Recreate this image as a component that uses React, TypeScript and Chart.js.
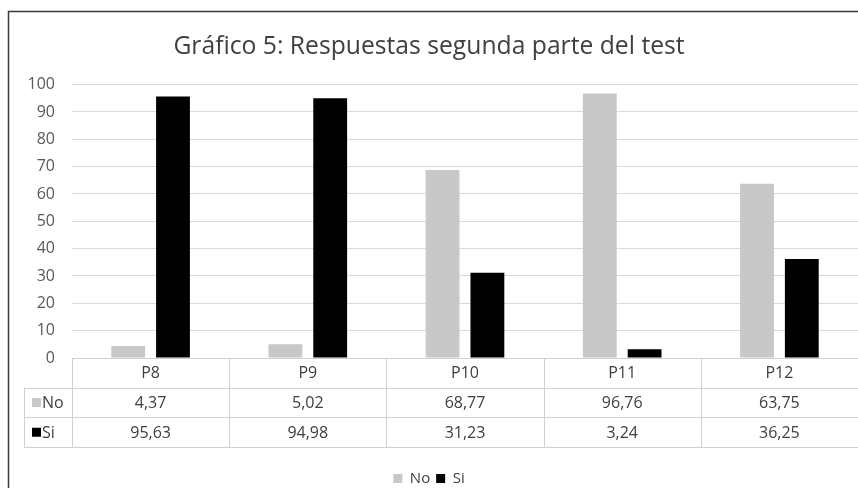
import React, { useEffect, useRef } from "react";
import { Chart, registerables } from "chart.js";

Chart.register(...registerables);

const TITLE = "Gráfico 5: Respuestas segunda parte del test";
const categories = ["P8", "P9", "P10", "P11", "P12"];
const seriesNames = ["No", "Si"];
const noValues = [4.37, 5.02, 68.77, 96.76, 63.75];
const siValues = [95.63, 94.98, 31.23, 3.24, 36.25];
const seriesColors = ["#c8c8c8", "#000000"];

const FONT = "'Open Sans', Lato, sans-serif";
const TEXT = "#404040";
const GRID = "#d9d9d9";

const fmt = (v: number) => v.toFixed(2).replace(".", ",");

const tablePlugin = {
  id: "dataTable",
  afterDraw(chart: any) {
    const { ctx, chartArea } = chart;
    const left = chartArea.left;
    const right = chartArea.right;
    const top = chartArea.bottom;
    const rowH = 29.7;
    const tableLeft = 24;
    const n = categories.length;
    const cw = (right - left) / n;
    ctx.save();
    ctx.strokeStyle = "#d0d0d0";
    ctx.lineWidth = 1;
    ctx.beginPath();
    ctx.moveTo(left, top + 0.5);
    ctx.lineTo(right + 5, top + 0.5);
    for (let r = 1; r <= 3; r++) {
      const y = Math.round(top + r * rowH) + 0.5;
      ctx.moveTo(tableLeft, y);
      ctx.lineTo(right + 5, y);
    }
    ctx.moveTo(tableLeft + 0.5, top + rowH);
    ctx.lineTo(tableLeft + 0.5, top + 3 * rowH);
    for (let i = 0; i <= n; i++) {
      const x = Math.round(left + i * cw) + 0.5;
      ctx.moveTo(x, top);
      ctx.lineTo(x, top + 3 * rowH);
    }
    ctx.stroke();

    ctx.fillStyle = TEXT;
    ctx.font = `16px ${FONT}`;
    ctx.textAlign = "center";
    ctx.textBaseline = "middle";
    const rows = [noValues, siValues];
    categories.forEach((c, i) => {
      const cx = left + (i + 0.5) * cw;
      ctx.fillText(c, cx, top + rowH / 2 + 1);
      rows.forEach((vals, r) => {
        ctx.fillText(fmt(vals[i]), cx, top + rowH * (r + 1.5) + 1);
      });
    });
    ctx.textAlign = "left";
    seriesNames.forEach((name, r) => {
      const cy = top + rowH * (r + 1.5);
      ctx.fillStyle = seriesColors[r];
      ctx.fillRect(32, cy - 4.5, 9, 9);
      ctx.fillStyle = TEXT;
      ctx.fillText(name, 42, cy + 1);
    });

    ctx.strokeStyle = "#3a3a3a";
    ctx.lineWidth = 1.5;
    ctx.strokeRect(8.5, 11.5, 1000, 1000);
    ctx.restore();
  },
};

export default function App() {
  const ref = useRef<HTMLCanvasElement>(null);
  useEffect(() => {
    if (!ref.current) return;
    const chart = new Chart(ref.current, {
      type: "bar",
      data: {
        labels: categories,
        datasets: [
          { label: seriesNames[0], data: noValues, backgroundColor: seriesColors[0] },
          { label: seriesNames[1], data: siValues, backgroundColor: seriesColors[1] },
        ],
      },
      options: {
        responsive: false,
        animation: false,
        layout: { padding: { left: 0, right: 0, top: 0, bottom: -8 } },
        datasets: {
          bar: { categoryPercentage: 0.57, barPercentage: 0.755 },
        },
        scales: {
          x: {
            grid: { display: false },
            border: { display: false },
            ticks: { display: false },
            afterFit: (s: any) => {
              s.height = 107;
            },
          },
          y: {
            min: 0,
            max: 100,
            border: { display: false },
            grid: { color: GRID, drawTicks: false },
            ticks: {
              stepSize: 10,
              color: "#595959",
              padding: 17,
              font: { family: FONT, size: 16 },
            },
            afterFit: (s: any) => {
              s.width = 72;
            },
          },
        },
        plugins: {
          title: {
            display: true,
            text: TITLE,
            color: TEXT,
            font: { family: FONT, size: 24.7, weight: "normal" },
            padding: { top: 32, bottom: 23 },
          },
          legend: {
            position: "bottom",
            labels: {
              color: TEXT,
              font: { family: FONT, size: 15 },
              boxWidth: 9,
              boxHeight: 9,
              padding: 6,
            },
          },
          tooltip: { enabled: false },
        },
      },
      plugins: [tablePlugin],
    });
    return () => chart.destroy();
  }, []);
  return (
    <div style={{ position: "absolute", left: 0, top: 0, width: 858, height: 488 }}>
      <canvas ref={ref} width={858} height={488} />
    </div>
  );
}
